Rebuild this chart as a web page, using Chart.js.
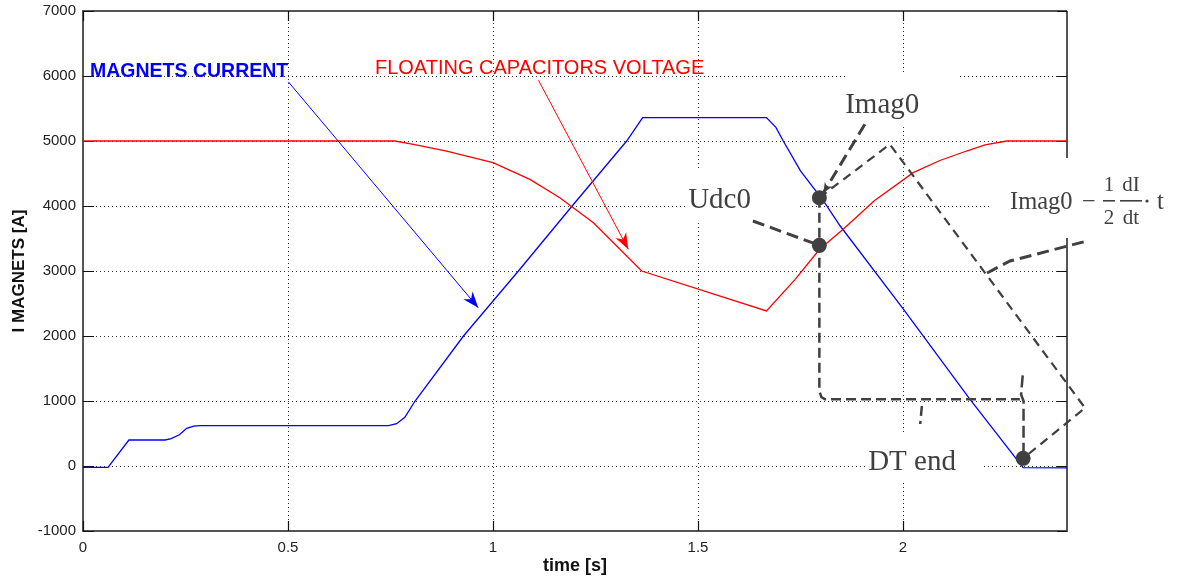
<!DOCTYPE html>
<html>
<head>
<meta charset="utf-8">
<script src="https://cdn.jsdelivr.net/npm/chart.js@4/dist/chart.umd.min.js"></script>
<style>
  html, body { margin: 0; padding: 0; background: #ffffff; }
  canvas { display: block; }
</style>
</head>
<body>
<canvas id="c" width="1181" height="583"></canvas>
<script>
// ---------------- data ----------------
const xTicks = [0, 0.5, 1, 1.5, 2];
const xTickLabels = ['0', '0.5', '1', '1.5', '2'];
const yTicks = [-1000, 0, 1000, 2000, 3000, 4000, 5000, 6000, 7000];
const yTickLabels = ['-1000', '0', '1000', '2000', '3000', '4000', '5000', '6000', '7000'];

// Magnets current (blue)
const currentTime = [0, 0.061, 0.112, 0.2, 0.215, 0.235, 0.253, 0.27, 0.285, 0.745, 0.765, 0.785, 0.81, 0.928, 1.062, 1.193, 1.326, 1.365, 1.667, 1.69, 1.708, 1.75, 1.806, 1.846, 2.0, 2.163, 2.293, 2.4];
const currentValue = [-20, -20, 400, 400, 420, 480, 580, 615, 620, 620, 650, 750, 1000, 2000, 3000, 4000, 5000, 5360, 5360, 5210, 5000, 4540, 4080, 3700, 2420, 1030, -25, -30];

// Floating capacitors voltage (red)
const voltageTime = [0, 0.761, 0.806, 0.887, 1.0, 1.09, 1.163, 1.245, 1.3627, 1.667, 1.737, 1.796, 1.854, 1.93, 2.025, 2.09, 2.155, 2.2, 2.253, 2.4];
const voltageValue = [5000, 5000, 4949, 4846, 4666, 4410, 4128, 3743, 3000, 2385, 2872, 3330, 3641, 4080, 4513, 4700, 4846, 4940, 5000, 5000];

// annotation marker points (Imag0, Udc0, DT end)
const markerTime = [1.796, 1.796, 2.293];
const markerValue = [4128, 3395, 118];

// annotation paths (data coordinates)
const leaderImag0 = { t: [1.907, 1.806], v: [5257, 4205] };
const pathDecay = { t: [1.796, 1.968, 2.444, 2.293], v: [4128, 4949, 892, 118] };
const leaderUdc0 = { t: [1.634, 1.796], v: [3769, 3395] };
const pathDT = { t: [1.796, 1.796, 1.801, 1.81, 2.285], v: [4128, 1154, 1060, 1026, 1026] };
const pathDTvert = { t: [2.292, 2.288, 2.294, 2.294], v: [1395, 1100, 1000, 118] };
const pathTick = { t: [2.046, 2.042], v: [923, 646] };
const leaderFormula = { t: [2.205, 2.261, 2.449], v: [2969, 3154, 3462] };
const arrowCurrent = { t: [0.5007, 0.964], v: [5912, 2435] };
const arrowVoltage = { t: [1.111, 1.330], v: [5934, 3334] };

// text annotations
const seriesLabels = [
  { text: 'MAGNETS CURRENT', t: 0.017, v: 5985, color: '#0000ff', font: 'bold 19.5px "Liberation Sans", Arial, sans-serif' },
  { text: 'FLOATING CAPACITORS VOLTAGE', t: 0.712, v: 6026, color: '#ff0000', font: '20px "Liberation Sans", Arial, sans-serif' }
];
const noteLabels = [
  { text: 'Imag0', t: 1.859, v: 5435, box: [1.859, 2.134, 6031, 5215] },
  { text: 'Udc0', t: 1.476, v: 3969, box: [1.471, 1.744, 4538, 3738] },
  { text: 'DT end', t: 1.915, v: -62, box: [1.910, 2.195, 508, -231] }
];
const formulaAnchor = { t: 2.261, v: 3954, box: [2.217, 2.66, 4738, 3508] };

// ---------------- helpers ----------------
const pts = (ts, vs) => ts.map((t, i) => ({ x: t, y: vs[i] }));
const DARK = '#404040';
const SERIF = '"Liberation Serif", "Times New Roman", serif';

function dashed(path, width, dash) {
  return {
    type: 'line', data: pts(path.t, path.v), borderColor: DARK, borderWidth: width || 2.5,
    borderDash: dash || [10, 6], pointRadius: 0, fill: false, tension: 0, clip: false, order: 1
  };
}

function arrowHead(ctx, x0, y0, x1, y1, len, half, color) {
  const a = Math.atan2(y1 - y0, x1 - x0);
  const c = Math.cos(a), s = Math.sin(a);
  const bx = x1 - len * c, by = y1 - len * s;
  const nx = -s, ny = c;
  const mx = x1 - 0.7 * len * c, my = y1 - 0.7 * len * s;
  ctx.save();
  ctx.fillStyle = color;
  ctx.beginPath();
  ctx.moveTo(x1, y1);
  ctx.lineTo(bx + half * nx, by + half * ny);
  ctx.lineTo(mx, my);
  ctx.lineTo(bx - half * nx, by - half * ny);
  ctx.closePath();
  ctx.fill();
  ctx.restore();
}

const decor = {
  id: 'decor',
  beforeDatasetsDraw(chart) {
    const { ctx, chartArea: a, scales: { x, y } } = chart;
    ctx.save();
    // frame top & right
    ctx.strokeStyle = '#555555';
    ctx.lineWidth = 2;
    ctx.beginPath();
    ctx.moveTo(a.left, a.top); ctx.lineTo(a.right, a.top);
    ctx.moveTo(a.right, a.top); ctx.lineTo(a.right, a.bottom);
    ctx.stroke();
    // inward ticks
    ctx.strokeStyle = '#111111';
    ctx.lineWidth = 1.2;
    ctx.beginPath();
    xTicks.forEach(v => {
      const px = Math.round(x.getPixelForValue(v)) + 0.5;
      ctx.moveTo(px, a.bottom); ctx.lineTo(px, a.bottom - 10);
      ctx.moveTo(px, a.top); ctx.lineTo(px, a.top + 10);
    });
    yTicks.forEach(v => {
      const py = Math.round(y.getPixelForValue(v)) + 0.5;
      ctx.moveTo(a.left, py); ctx.lineTo(a.left + 11, py);
      ctx.moveTo(a.right, py); ctx.lineTo(a.right - 10, py);
    });
    ctx.stroke();
    // white label boxes
    ctx.fillStyle = '#ffffff';
    const boxes = noteLabels.map(n => n.box).concat([formulaAnchor.box]);
    boxes.forEach(b => {
      const x0 = x.getPixelForValue(b[0]), x1 = x.getPixelForValue(b[1]);
      const y0 = y.getPixelForValue(b[2]), y1 = y.getPixelForValue(b[3]);
      ctx.fillRect(x0, y0, x1 - x0, y1 - y0);
    });
    ctx.restore();
  },
  afterDatasetsDraw(chart) {
    const { ctx, scales: { x, y } } = chart;
    const P = (t, v) => [x.getPixelForValue(t), y.getPixelForValue(v)];
    ctx.save();
    // arrow heads
    [[arrowCurrent, '#0000ff'], [arrowVoltage, '#ff0000']].forEach(([ar, col]) => {
      const [x0, y0] = P(ar.t[0], ar.v[0]);
      const [x1, y1] = P(ar.t[1], ar.v[1]);
      arrowHead(ctx, x0, y0, x1, y1, 16, 6, col);
    });
    {
      const [x0, y0] = P(leaderImag0.t[0], leaderImag0.v[0]);
      const [x1, y1] = P(leaderImag0.t[1], leaderImag0.v[1]);
      arrowHead(ctx, x0, y0, x1, y1, 10, 4.5, DARK);
    }
    // series labels
    ctx.textBaseline = 'alphabetic';
    ctx.textAlign = 'left';
    seriesLabels.forEach(l => {
      ctx.font = l.font; ctx.fillStyle = l.color;
      const [px, py] = P(l.t, l.v);
      ctx.fillText(l.text, px, py);
    });
    // note labels
    ctx.fillStyle = DARK;
    ctx.font = '29px ' + SERIF;
    noteLabels.forEach(l => {
      const [px, py] = P(l.t, l.v);
      ctx.fillText(l.text, px, py);
    });
    // formula: Imag0 − (1/2)(dI/dt)·t
    const [ax, ay] = P(formulaAnchor.t, formulaAnchor.v);
    ctx.font = '24.5px ' + SERIF;
    ctx.fillText('Imag0', ax, ay);
    ctx.textAlign = 'center';
    ctx.fillText('\u2212', ax + 79, ay);
    ctx.font = '21px ' + SERIF;
    ctx.fillText('1', ax + 99, ay - 18);
    ctx.fillText('2', ax + 99, ay + 15);
    ctx.fillText('dI', ax + 121, ay - 18);
    ctx.fillText('dt', ax + 121, ay + 15);
    ctx.fillRect(ax + 93, ay - 9, 12, 1.6);
    ctx.fillRect(ax + 110, ay - 9, 22, 1.6);
    ctx.beginPath();
    ctx.arc(ax + 137, ay - 8, 1.6, 0, Math.PI * 2);
    ctx.fill();
    ctx.font = '24.5px ' + SERIF;
    ctx.textAlign = 'left';
    ctx.fillText('t', ax + 147, ay);
    ctx.restore();
  }
};

const tickFont = { family: '"Liberation Sans", Arial, sans-serif', size: 15 };

new Chart(document.getElementById('c'), {
  type: 'line',
  data: {
    datasets: [
      { type: 'scatter', data: pts(markerTime, markerValue), pointRadius: 7.5, pointBackgroundColor: DARK, pointBorderWidth: 0, showLine: false, clip: false, order: 0 },
      dashed(leaderImag0, 3, [12, 6]),
      dashed(pathDecay, 2.2, [9, 6]),
      dashed(leaderUdc0, 3, [12, 6]),
      dashed(pathDT, 2.5, [10, 5]),
      dashed(pathDTvert, 2.5, [12, 5]),
      dashed(pathTick, 2.5, [10, 5]),
      dashed(leaderFormula, 3, [12, 6]),
      { data: pts(arrowCurrent.t, arrowCurrent.v), borderColor: '#0000ff', borderWidth: 1, pointRadius: 0, tension: 0, order: 2 },
      { data: pts(arrowVoltage.t, arrowVoltage.v), borderColor: '#ff0000', borderWidth: 1, pointRadius: 0, tension: 0, order: 2 },
      { data: pts(voltageTime, voltageValue), borderColor: '#ff0000', borderWidth: 1.3, pointRadius: 0, tension: 0, order: 3 },
      { data: pts(currentTime, currentValue), borderColor: '#0000ff', borderWidth: 1.3, pointRadius: 0, tension: 0, order: 3 }
    ]
  },
  options: {
    responsive: false,
    animation: false,
    events: [],
    layout: { padding: { top: 11, right: 114, left: 0, bottom: 0 } },
    plugins: { legend: { display: false }, tooltip: { enabled: false } },
    scales: {
      x: {
        type: 'linear', min: 0, max: 2.4,
        afterBuildTicks: s => { s.ticks = xTicks.map(v => ({ value: v })); },
        afterFit: s => { s.height = 52; s.paddingLeft = 0; s.paddingRight = 0; },
        grid: { color: '#333333', lineWidth: 1, drawTicks: false },
        border: { display: true, color: '#555555', width: 2, dash: [1, 3] },
        ticks: { padding: 8, color: '#222222', font: tickFont, maxRotation: 0, autoSkip: false,
                 callback: (v, i) => xTickLabels[i] },
        title: { display: true, text: 'time [s]', color: '#111111',
                 font: { family: '"Liberation Sans", Arial, sans-serif', size: 18, weight: 'bold' },
                 padding: { top: 0, bottom: 6 } }
      },
      y: {
        type: 'linear', min: -1000, max: 7000,
        afterBuildTicks: s => { s.ticks = yTicks.map(v => ({ value: v })); },
        afterFit: s => { s.width = 83; s.paddingTop = 0; s.paddingBottom = 0; },
        grid: { color: '#333333', lineWidth: 1, drawTicks: false },
        border: { display: true, color: '#555555', width: 2, dash: [1, 3] },
        ticks: { padding: 7, color: '#222222', font: tickFont, autoSkip: false,
                 callback: (v, i) => yTickLabels[i] },
        title: { display: true, text: 'I MAGNETS [A]', color: '#111111',
                 font: { family: '"Liberation Sans", Arial, sans-serif', size: 17, weight: 'bold' },
                 padding: { top: 9, bottom: 0 } }
      }
    }
  },
  plugins: [decor]
});
</script>
</body>
</html>
